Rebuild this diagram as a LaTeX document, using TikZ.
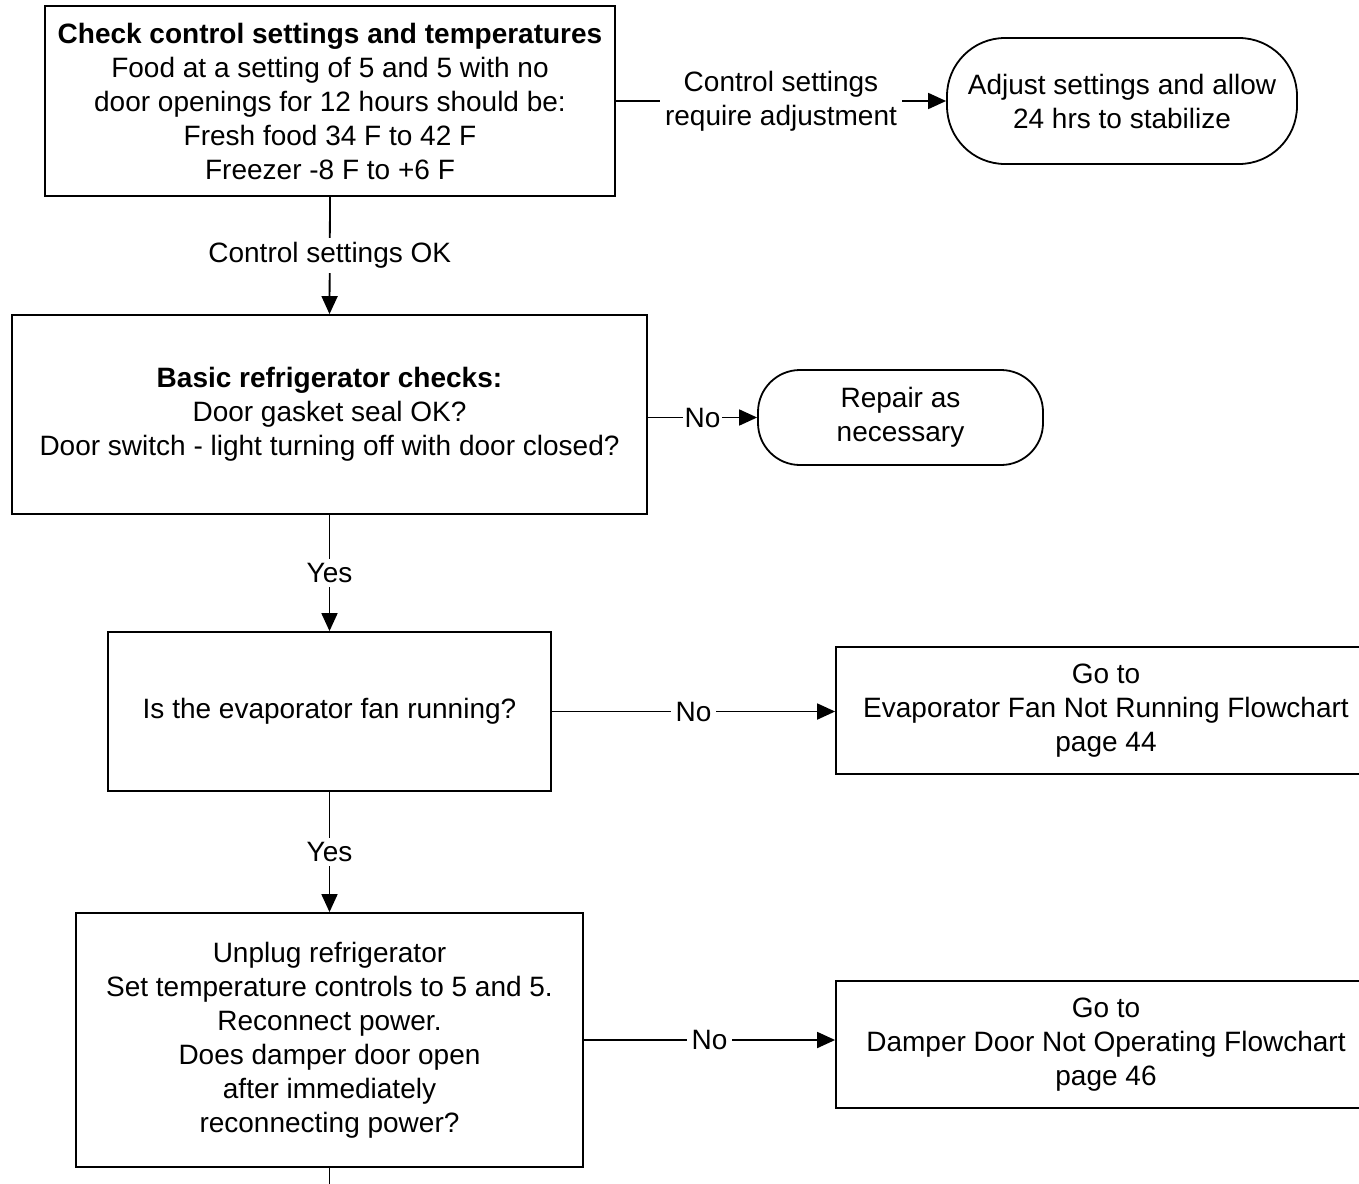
\documentclass[tikz,border=0pt]{standalone}
\usepackage{fontspec}
\setmainfont{Liberation Sans}
\usetikzlibrary{arrows.meta}
\tikzset{
  base/.style={draw, line width=1.8pt, inner sep=0pt, align=center,
    font=\fontsize{28}{34}\selectfont},
  procbox/.style={base, rectangle},
  termbox/.style={base, rectangle, rounded corners=#1},
  conn/.style={line width=1.8pt},
  arr/.style={conn, -{Triangle[length=18pt,width=16pt]}},
  lbl/.style={fill=white, inner xsep=5pt, inner ysep=4pt, align=center,
    font=\fontsize{28}{34}\selectfont}
}
\begin{document}
\begin{tikzpicture}[x=1pt,y=-1pt]
\clip (0,0) rectangle (1359,1183);
\fill[white] (0,0) rectangle (1359,1183);

\node[procbox, minimum width=570pt, minimum height=190pt] (b1) at (330,101)
  {\textbf{Check control settings and temperatures}\\
   Food at a setting of 5 and 5 with no\\
   door openings for 12 hours should be:\\
   Fresh food 34 F to 42 F\\
   Freezer -8 F to +6 F};

\node[termbox=58pt, minimum width=350pt, minimum height=126pt] (t1) at (1122,101)
  {Adjust settings and allow\\24 hrs to stabilize};

\node[procbox, minimum width=635pt, minimum height=199pt] (b2) at (329.5,414.5)
  {\textbf{Basic refrigerator checks:}\\
   Door gasket seal OK?\\
   Door switch - light turning off with door closed?};

\node[termbox=42pt, minimum width=285pt, minimum height=95pt] (t2) at (900.5,417.5)
  {Repair as\\necessary};

\node[procbox, minimum width=443pt, minimum height=159pt] (b3) at (329.5,711.5)
  {Is the evaporator fan running?};

\node[procbox, minimum width=540pt, minimum height=127pt] (g1) at (1106,710.5)
  {Go to\\Evaporator Fan Not Running Flowchart\\page 44};

\node[procbox, minimum width=507pt, minimum height=254pt] (b4) at (329.5,1040)
  {Unplug refrigerator\\
   Set temperature controls to 5 and 5.\\
   Reconnect power.\\
   Does damper door open\\
   after immediately\\
   reconnecting power?};

\node[procbox, minimum width=540pt, minimum height=127pt] (g2) at (1106,1044.5)
  {Go to\\Damper Door Not Operating Flowchart\\page 46};

\coordinate (endb) at (329.5,1200);

\draw[arr] (b1.east) -- node[lbl] {Control settings\\require adjustment} (t1.west);
\draw[arr] (b1.south) -- node[lbl] {Control settings OK} (b2.north);
\draw[arr] (b2.east |- t2.west) -- node[lbl, inner xsep=2pt] {No} (t2.west);
\draw[arr] (b2.south) -- node[lbl] {Yes} (b3.north);
\draw[arr] (b3.east) -- node[lbl] {No} (g1.west |- b3.east);
\draw[arr] (b3.south) -- node[lbl] {Yes} (b4.north);
\draw[arr] (b4.east) -- node[lbl] {No} (g2.west |- b4.east);
\draw[conn] (b4.south) -- (endb);
\end{tikzpicture}
\end{document}
